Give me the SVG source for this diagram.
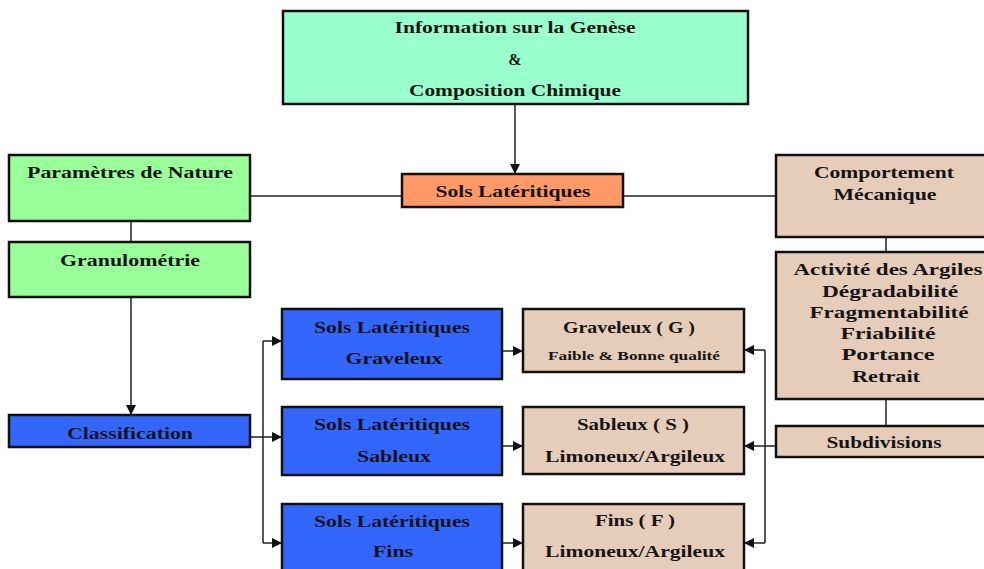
<svg xmlns="http://www.w3.org/2000/svg" width="984" height="569" viewBox="0 0 984 569">
<defs>
<marker id="ah" viewBox="0 0 10 10" refX="10" refY="5" markerWidth="10" markerHeight="10" markerUnits="userSpaceOnUse" orient="auto">
<path d="M0,0 L10,5 L0,10 z" fill="#111"/>
</marker>
<style>
.box{stroke:#111;stroke-width:2.5}
.mint{fill:#99FFCC}.green{fill:#99FF99}.orange{fill:#FF9966}.blue{fill:#3366FF}.beige{fill:#E6CDBA}
text{font-family:"Liberation Serif","Times New Roman",serif;font-weight:bold;font-size:16px;fill:#141414;text-anchor:middle}
.sm{font-size:13px}
.conn{stroke:#222;stroke-width:1.5;fill:none}
</style>
</defs>
<rect width="984" height="569" fill="#fff"/>
<g id="connectors">
<line class="conn" x1="515" y1="104" x2="515" y2="174" marker-end="url(#ah)"/>
<line class="conn" x1="250" y1="196" x2="402" y2="196"/>
<line class="conn" x1="623" y1="196" x2="776" y2="196"/>
<line class="conn" x1="131" y1="221" x2="131" y2="242"/>
<line class="conn" x1="131" y1="297" x2="131" y2="415" marker-end="url(#ah)"/>
<line class="conn" x1="886" y1="237" x2="886" y2="252"/>
<line class="conn" x1="886" y1="399" x2="886" y2="426"/>
<polyline class="conn" points="250,437 263,437"/>
<polyline class="conn" points="263,341 263,543"/>
<line class="conn" x1="263" y1="341" x2="282" y2="341" marker-end="url(#ah)"/>
<line class="conn" x1="263" y1="437" x2="282" y2="437" marker-end="url(#ah)"/>
<line class="conn" x1="263" y1="543" x2="282" y2="543" marker-end="url(#ah)"/>
<line class="conn" x1="502" y1="351" x2="523" y2="351" marker-end="url(#ah)"/>
<line class="conn" x1="502" y1="446" x2="523" y2="446" marker-end="url(#ah)"/>
<line class="conn" x1="502" y1="543" x2="523" y2="543" marker-end="url(#ah)"/>
<polyline class="conn" points="765,350 765,543"/>
<line class="conn" x1="765" y1="350" x2="744" y2="350" marker-end="url(#ah)"/>
<line class="conn" x1="776" y1="446" x2="744" y2="446" marker-end="url(#ah)"/>
<line class="conn" x1="765" y1="543" x2="744" y2="543" marker-end="url(#ah)"/>
</g>
<g id="n-info">
<rect class="box mint" x="283" y="11" width="465" height="93"/>
<text x="515" y="33" textLength="241" lengthAdjust="spacingAndGlyphs">Information sur la Genèse</text>
<text x="515" y="65">&amp;</text>
<text x="515" y="96" textLength="212" lengthAdjust="spacingAndGlyphs">Composition Chimique</text>
</g>
<g id="n-sols">
<rect class="box orange" x="402" y="174" width="221" height="33"/>
<text x="513" y="197" textLength="155" lengthAdjust="spacingAndGlyphs">Sols Latéritiques</text>
</g>
<g id="n-param">
<rect class="box green" x="9" y="155" width="241" height="66"/>
<text x="130" y="178" textLength="206" lengthAdjust="spacingAndGlyphs">Paramètres de Nature</text>
</g>
<g id="n-granulo">
<rect class="box green" x="9" y="242" width="241" height="55"/>
<text x="130" y="266" textLength="140" lengthAdjust="spacingAndGlyphs">Granulométrie</text>
</g>
<g id="n-classif">
<rect class="box blue" x="9" y="415" width="241" height="32"/>
<text x="130" y="439" textLength="126" lengthAdjust="spacingAndGlyphs">Classification</text>
</g>
<g id="n-blue-g">
<rect class="box blue" x="282" y="309" width="220" height="70"/>
<text x="392" y="333" textLength="156" lengthAdjust="spacingAndGlyphs">Sols Latéritiques</text>
<text x="394" y="364" textLength="97" lengthAdjust="spacingAndGlyphs">Graveleux</text>
</g>
<g id="n-blue-s">
<rect class="box blue" x="282" y="407" width="220" height="68"/>
<text x="392" y="430" textLength="156" lengthAdjust="spacingAndGlyphs">Sols Latéritiques</text>
<text x="394" y="462" textLength="74" lengthAdjust="spacingAndGlyphs">Sableux</text>
</g>
<g id="n-blue-f">
<rect class="box blue" x="282" y="504" width="220" height="75"/>
<text x="392" y="527" textLength="156" lengthAdjust="spacingAndGlyphs">Sols Latéritiques</text>
<text x="393" y="557" textLength="40" lengthAdjust="spacingAndGlyphs">Fins</text>
</g>
<g id="n-res-g">
<rect class="box beige" x="523" y="309" width="221" height="63"/>
<text x="629" y="333" textLength="132" lengthAdjust="spacingAndGlyphs">Graveleux ( G )</text>
<text class="sm" x="634" y="360" textLength="172" lengthAdjust="spacingAndGlyphs">Faible &amp; Bonne qualité</text>
</g>
<g id="n-res-s">
<rect class="box beige" x="523" y="407" width="221" height="67"/>
<text x="633" y="430" textLength="112" lengthAdjust="spacingAndGlyphs">Sableux ( S )</text>
<text x="635" y="462" textLength="180" lengthAdjust="spacingAndGlyphs">Limoneux/Argileux</text>
</g>
<g id="n-res-f">
<rect class="box beige" x="523" y="504" width="221" height="75"/>
<text x="635" y="526" textLength="80" lengthAdjust="spacingAndGlyphs">Fins ( F )</text>
<text x="635" y="557" textLength="180" lengthAdjust="spacingAndGlyphs">Limoneux/Argileux</text>
</g>
<g id="n-comport">
<rect class="box beige" x="776" y="155" width="220" height="82"/>
<text x="884" y="178" textLength="140" lengthAdjust="spacingAndGlyphs">Comportement</text>
<text x="885" y="200" textLength="103" lengthAdjust="spacingAndGlyphs">Mécanique</text>
</g>
<g id="n-activite">
<rect class="box beige" x="776" y="252" width="220" height="147"/>
<text x="888" y="275" textLength="189" lengthAdjust="spacingAndGlyphs">Activité des Argiles</text>
<text x="890" y="297" textLength="136" lengthAdjust="spacingAndGlyphs">Dégradabilité</text>
<text x="889" y="318" textLength="159" lengthAdjust="spacingAndGlyphs">Fragmentabilité</text>
<text x="888" y="339" textLength="95" lengthAdjust="spacingAndGlyphs">Friabilité</text>
<text x="888" y="360" textLength="93" lengthAdjust="spacingAndGlyphs">Portance</text>
<text x="886" y="382" textLength="68" lengthAdjust="spacingAndGlyphs">Retrait</text>
</g>
<g id="n-subdiv">
<rect class="box beige" x="776" y="426" width="220" height="31"/>
<text x="884" y="448" textLength="115" lengthAdjust="spacingAndGlyphs">Subdivisions</text>
</g>
</svg>
